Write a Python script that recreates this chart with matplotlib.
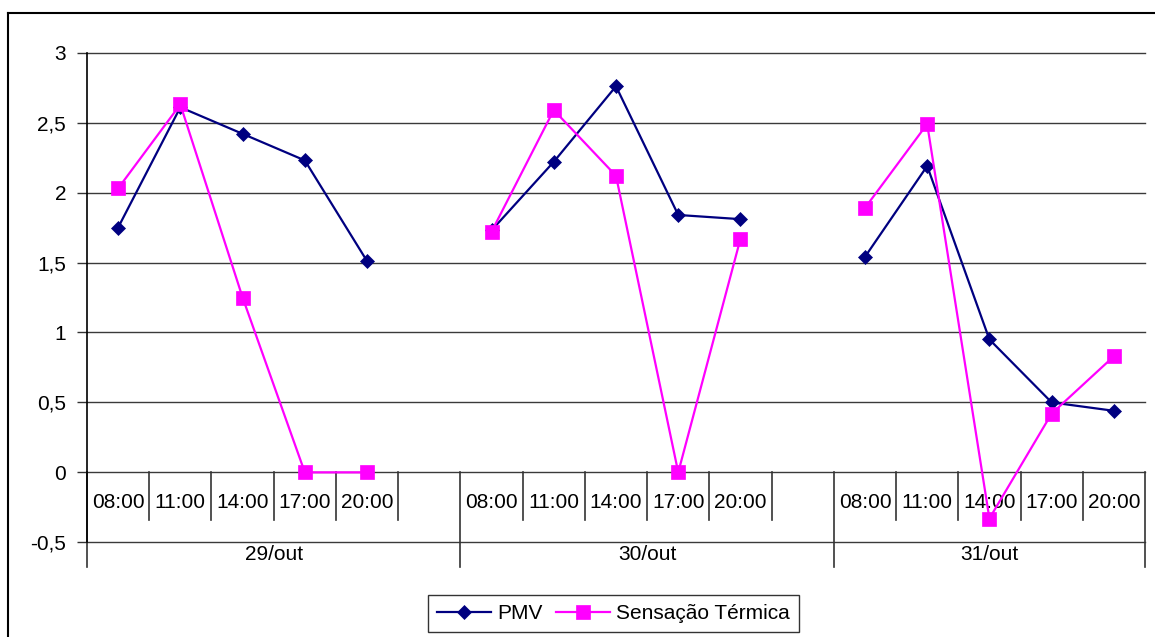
import numpy as np
import matplotlib
matplotlib.use("Agg")
import matplotlib.pyplot as plt
from matplotlib.lines import Line2D

plt.rcParams['font.family'] = ['Liberation Sans', 'DejaVu Sans']

# dados (NaN = categoria vazia entre os dias)
dias = ["29/out", "30/out", "31/out"]
horarios = [
    ["08:00", "11:00", "14:00", "17:00", "20:00", ""],
    ["08:00", "11:00", "14:00", "17:00", "20:00", ""],
    ["08:00", "11:00", "14:00", "17:00", "20:00"],
]
pmv = [1.75, 2.61, 2.42, 2.23, 1.51, np.nan,
       1.73, 2.22, 2.76, 1.84, 1.81, np.nan,
       1.54, 2.19, 0.95, 0.50, 0.44]
sensacao = [2.03, 2.63, 1.25, 0.0, 0.0, np.nan,
            1.72, 2.59, 2.12, 0.0, 1.67, np.nan,
            1.89, 2.49, -0.33, 0.42, 0.83]
y_ticks = [-0.5, 0, 0.5, 1, 1.5, 2, 2.5, 3]

n = len(pmv)
x = np.arange(n) + 0.5

fig = plt.figure(figsize=(11.55, 6.37), dpi=100)
ax = fig.add_axes([87 / 1155, 1 - 542.3 / 637, 1058 / 1155, (542.3 - 52.7) / 637])

ax.set_xlim(0, n)
ax.set_ylim(-0.5, 3)
ax.set_yticks(y_ticks)
ax.set_yticklabels([f"{v:g}".replace(".", ",") for v in y_ticks], fontsize=15)
ax.tick_params(axis="y", length=7, width=1, pad=8, color="#333333")
ax.set_xticks([])
for g in y_ticks:
    ax.axhline(g, color="#3a3a3a", lw=1.0, zorder=1, clip_on=False)
for s in ["top", "right", "bottom"]:
    ax.spines[s].set_visible(False)
ax.spines["left"].set_linewidth(1.2)

ax.plot(x, pmv, color="#000080", lw=1.6, marker="D", markersize=7,
        markeredgewidth=0.5, label="PMV", zorder=3)
ax.plot(x, sensacao, color="#FF00FF", lw=1.6, marker="s", markersize=9.5,
        markeredgewidth=0.5, label="Sensação Térmica", zorder=4)

# eixo de categorias em dois niveis
y_sep_curto = -48 / 139.8
y_sep_longo = -95 / 139.8
pos = 0
for dia, horas in zip(dias, horarios):
    ax.plot([pos, pos], [0, y_sep_longo], color="#333333", lw=1.2, clip_on=False)
    for i, h in enumerate(horas):
        c = pos + i
        if i > 0:
            ax.plot([c, c], [0, y_sep_curto], color="#333333", lw=1.2, clip_on=False)
        ax.text(c + 0.5, -0.218, h, ha="center", va="center", fontsize=15)
    ax.text(pos + len(horas) / 2, -0.585, dia, ha="center", va="center", fontsize=15)
    pos += len(horas)
ax.plot([pos, pos], [0, y_sep_longo], color="#333333", lw=1.2, clip_on=False)

leg = ax.legend(loc="center", bbox_to_anchor=(613.5 / 1155, 1 - 613.5 / 637),
                bbox_transform=fig.transFigure, ncol=2, fontsize=15, fancybox=False,
                framealpha=1, edgecolor="#333333", handlelength=2.6,
                columnspacing=0.6, handletextpad=0.3, borderpad=0.45)
leg.get_frame().set_linewidth(1.0)

# borda externa do grafico
fig.add_artist(Line2D([8 / 1155, 8 / 1155], [0, 1 - 13 / 637], color="black", lw=1.5))
fig.add_artist(Line2D([8 / 1155, 1], [1 - 13 / 637, 1 - 13 / 637], color="black", lw=1.5))

fig.savefig("out.png", dpi=100)
